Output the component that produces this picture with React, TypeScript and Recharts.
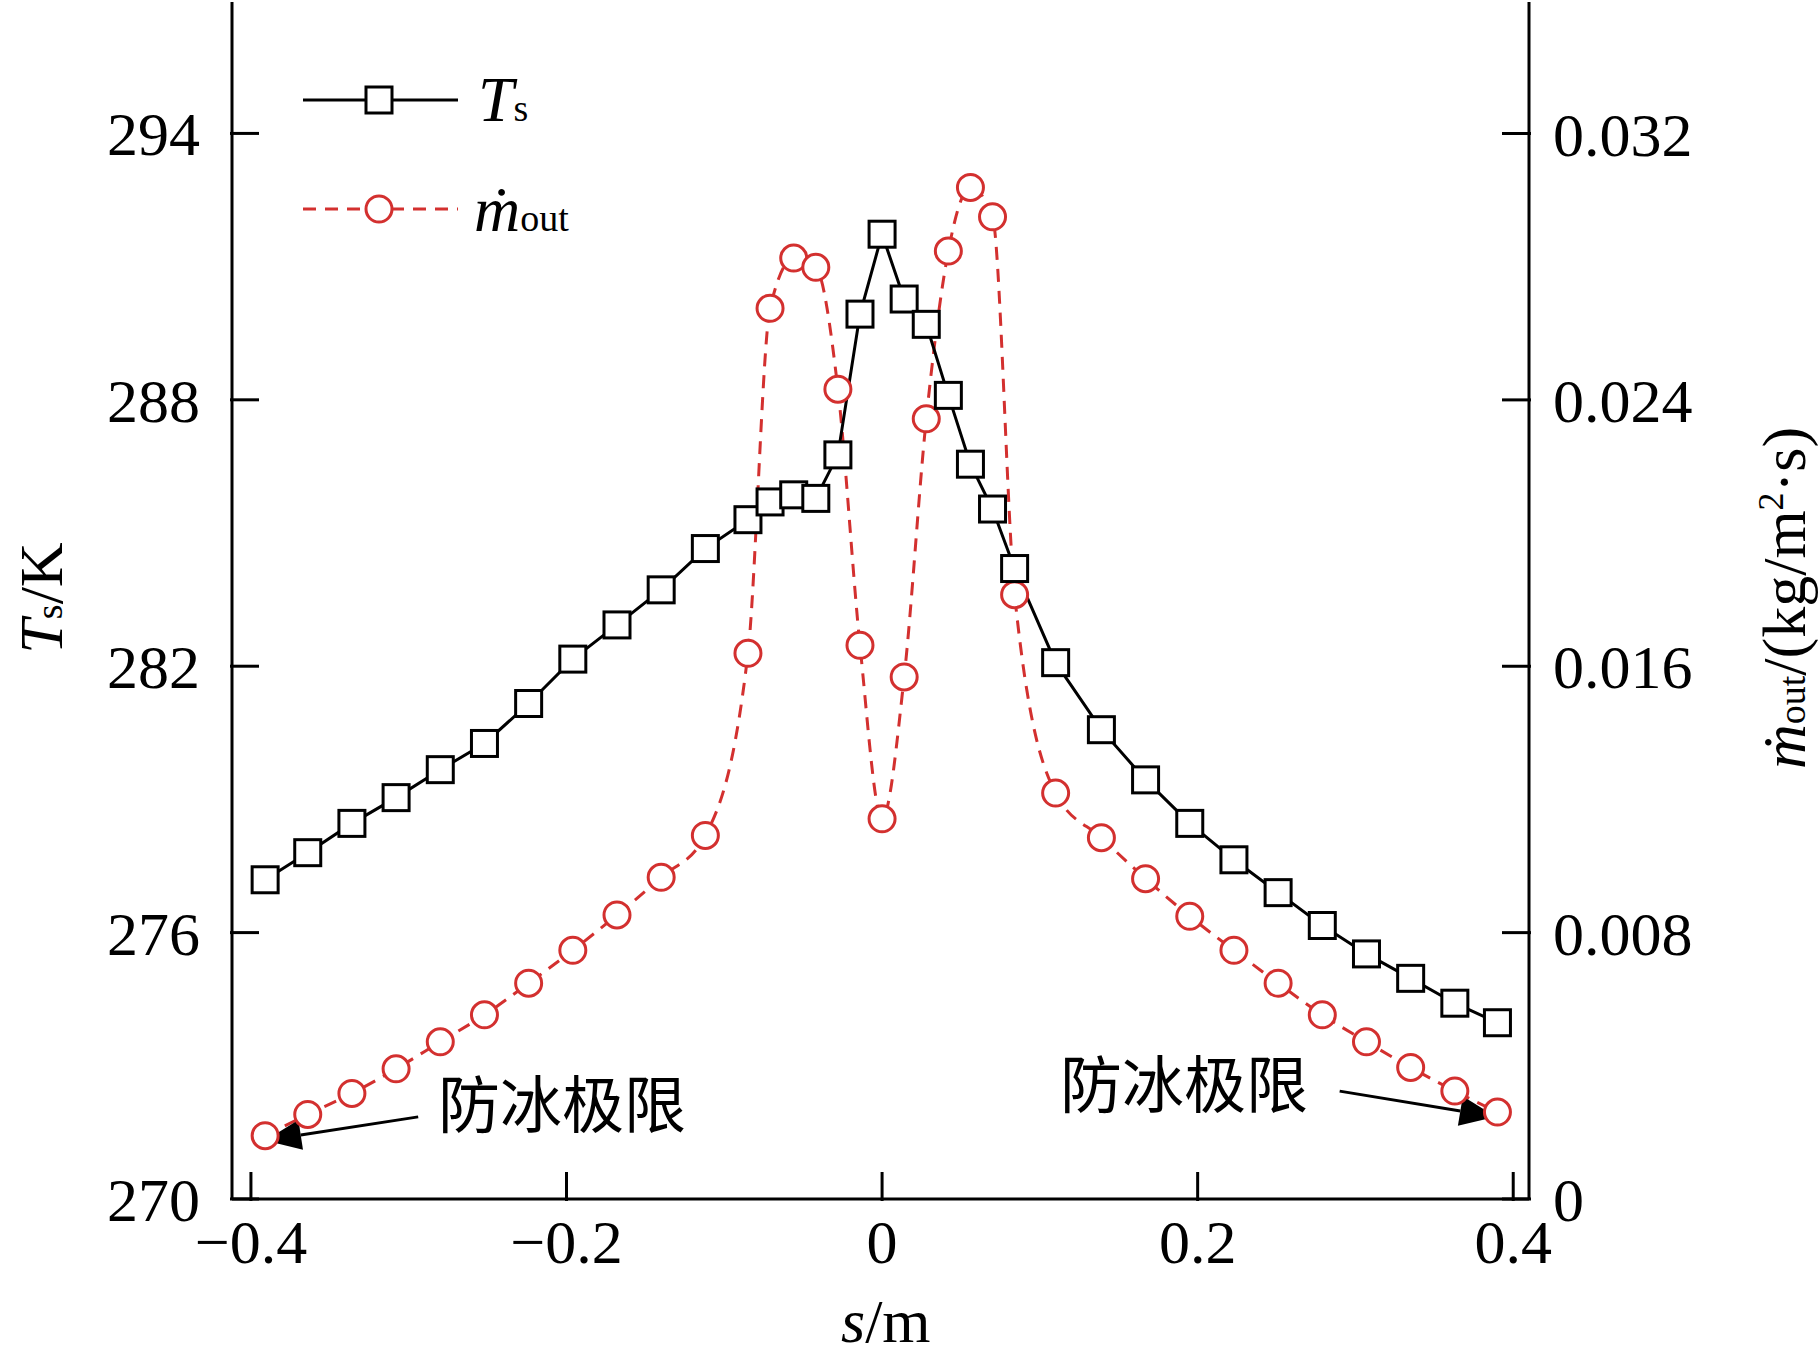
import { LineChart, Line, XAxis, YAxis, ReferenceLine } from 'recharts';

const sPos = [-0.391, -0.364, -0.336, -0.308, -0.28, -0.252, -0.224, -0.196, -0.168, -0.14, -0.112, -0.085, -0.071, -0.056, -0.042, -0.028, -0.014, 0, 0.014, 0.028, 0.042, 0.056, 0.07, 0.084, 0.11, 0.139, 0.167, 0.195, 0.223, 0.251, 0.279, 0.307, 0.335, 0.363, 0.39];
const tsValues = [277.19, 277.8, 278.46, 279.04, 279.67, 280.26, 281.16, 282.16, 282.93, 283.72, 284.65, 285.3, 285.7, 285.86, 285.78, 286.76, 289.93, 291.73, 290.27, 289.7, 288.1, 286.55, 285.54, 284.2, 282.08, 280.57, 279.44, 278.46, 277.64, 276.9, 276.16, 275.52, 274.97, 274.41, 273.97];
const mOutValues = [0.0019, 0.00254, 0.00317, 0.00391, 0.00472, 0.00553, 0.00648, 0.00747, 0.00853, 0.00966, 0.01092, 0.01639, 0.02675, 0.02826, 0.02798, 0.02432, 0.01663, 0.01142, 0.01568, 0.02343, 0.02847, 0.03038, 0.0295, 0.01815, 0.01219, 0.01085, 0.00962, 0.00849, 0.00747, 0.00648, 0.00553, 0.00472, 0.00395, 0.00324, 0.00261];
const xTicks = [-0.4, -0.2, 0, 0.2, 0.4];
const leftTicks = [270, 276, 282, 288, 294];
const rightTicks = [0, 0.008, 0.016, 0.024, 0.032];
const rightTickLabels = ['0', '0.008', '0.016', '0.024', '0.032'];

const data = sPos.map((s, i) => ({ s, ts: tsValues[i], m: mOutValues[i] }));

const RED = '#d3302f';
const FONT = '"Liberation Serif", "Times New Roman", serif';
const TICK_LEN = 29;
const FS = 62;

const fmtX = (v: number) => (v === 0 ? '0' : v < 0 ? '\u2212' + Math.abs(v) : String(v));

const XTick = (p: any) => (
  <g>
    <line x1={p.x} x2={p.x} y1={p.y} y2={p.y - TICK_LEN} stroke="#000" strokeWidth={3} />
    <text x={p.x} y={p.y + 62} textAnchor="middle" fontSize={FS} fontFamily={FONT} fill="#000">{fmtX(p.payload.value)}</text>
  </g>
);
const LTick = (p: any) => (
  <g>
    <line x1={p.x} x2={p.x + TICK_LEN} y1={p.y} y2={p.y} stroke="#000" strokeWidth={3} />
    <text x={p.x - 30} y={p.y + 22} textAnchor="end" fontSize={FS} fontFamily={FONT} fill="#000">{p.payload.value}</text>
  </g>
);
const RTick = (p: any) => (
  <g>
    <line x1={p.x} x2={p.x - TICK_LEN} y1={p.y} y2={p.y} stroke="#000" strokeWidth={3} />
    <text x={p.x + 22} y={p.y + 22} textAnchor="start" fontSize={FS} fontFamily={FONT} fill="#000">{rightTickLabels[rightTicks.indexOf(p.payload.value)] ?? p.payload.value}</text>
  </g>
);

const Square = (p: any) => (
  <rect x={p.cx - 13} y={p.cy - 13} width={26} height={26} fill="#fff" stroke="#000" strokeWidth={3} />
);

const Circle = (p: any) => (
  <circle cx={p.cx} cy={p.cy} r={13} fill="#fff" stroke={RED} strokeWidth={3} />
);

const Arrow = (p: any) => {
  const { x1, y1, x2, y2 } = p;
  const a = Math.atan2(y2 - y1, x2 - x1);
  const L = 36, W = 15;
  const bx = x2 - L * Math.cos(a), by = y2 - L * Math.sin(a);
  const nx = -Math.sin(a) * W, ny = Math.cos(a) * W;
  return (
    <g>
      <line x1={x1} y1={y1} x2={bx} y2={by} stroke="#000" strokeWidth={3} />
      <polygon points={`${x2},${y2} ${bx + nx},${by + ny} ${bx - nx},${by - ny}`} fill="#000" />
    </g>
  );
};

const abs = (x: number, y: number): any => ({ position: 'absolute', left: x, top: y, fontFamily: FONT, lineHeight: 1, whiteSpace: 'nowrap' });

export default function App() {
  return (
    <div style={{ position: 'absolute', left: 0, top: 0, width: 1819, height: 1361, background: '#fff' }}>
      <LineChart width={1819} height={1361} data={data} margin={{ top: 2, right: 0, left: 0, bottom: 0 }}>
        <XAxis dataKey="s" type="number" domain={[-0.412, 0.41]} ticks={xTicks} height={162} tickSize={0} tickLine={false} tick={<XTick />} axisLine={{ stroke: '#000', strokeWidth: 3 }} allowDataOverflow />
        <XAxis xAxisId="top" dataKey="s" type="number" domain={[-0.412, 0.41]} orientation="top" height={0} tick={false} tickLine={false} axisLine={{ stroke: '#000', strokeWidth: 3 }} />
        <YAxis yAxisId="left" domain={[270, 296.96]} ticks={leftTicks} width={232} tickSize={0} tickLine={false} tick={<LTick />} axisLine={{ stroke: '#000', strokeWidth: 3 }} allowDataOverflow />
        <YAxis yAxisId="right" orientation="right" domain={[0, 0.03595]} ticks={rightTicks} width={290} tickSize={0} tickLine={false} tick={<RTick />} axisLine={{ stroke: '#000', strokeWidth: 3 }} allowDataOverflow />
        <Line yAxisId="right" dataKey="m" type="monotone" stroke={RED} strokeWidth={3} strokeDasharray="13 9" dot={<Circle />} isAnimationActive={false} />
        <Line yAxisId="left" dataKey="ts" type="linear" stroke="#000" strokeWidth={3} dot={<Square />} isAnimationActive={false} />
        <ReferenceLine yAxisId="left" segment={[{ x: -0.294, y: 271.85 }, { x: -0.391, y: 271.32 }]} shape={<Arrow />} ifOverflow="visible" />
        <ReferenceLine yAxisId="left" segment={[{ x: 0.29, y: 272.43 }, { x: 0.389, y: 271.85 }]} shape={<Arrow />} ifOverflow="visible" />
      </LineChart>

      {/* legend */}
      <svg style={{ position: 'absolute', left: 300, top: 70 }} width={170} height={180}>
        <line x1={3} x2={158} y1={30} y2={30} stroke="#000" strokeWidth={3} />
        <rect x={66} y={17} width={26} height={26} fill="#fff" stroke="#000" strokeWidth={3} />
        <line x1={3} x2={158} y1={139} y2={139} stroke={RED} strokeWidth={3} strokeDasharray="13 9" />
        <circle cx={79} cy={139} r={13} fill="#fff" stroke={RED} strokeWidth={3} />
      </svg>
      <div style={{ ...abs(478, 68), fontSize: 64 }}><i>T</i><span style={{ fontSize: 38 }}>s</span></div>
      <div style={{ ...abs(474, 178), fontSize: 64 }}><i>ṁ</i><span style={{ fontSize: 38 }}>out</span></div>

      {/* axis labels */}
      <div style={{ ...abs(841, 1290), fontSize: 62 }}><i>s</i>/m</div>
      <div style={{ ...abs(41, 598), fontSize: 62, transform: 'translate(-50%,-50%) rotate(-90deg)' }}><i>T</i><span style={{ fontSize: 38 }}>s</span>/K</div>
      <div style={{ ...abs(1784, 598), fontSize: 62, transform: 'translate(-50%,-50%) rotate(-90deg)' }}><i>ṁ</i><span style={{ fontSize: 38 }}>out</span>/(kg/m<sup style={{ fontSize: 36 }}>2</sup>·s)</div>

      {/* annotations */}
      <div style={{ ...abs(438, 1070), fontSize: 62, fontFamily: '"Noto Sans CJK SC"' }}>防冰极限</div>
      <div style={{ ...abs(1060, 1050), fontSize: 62, fontFamily: '"Noto Sans CJK SC"' }}>防冰极限</div>
    </div>
  );
}
